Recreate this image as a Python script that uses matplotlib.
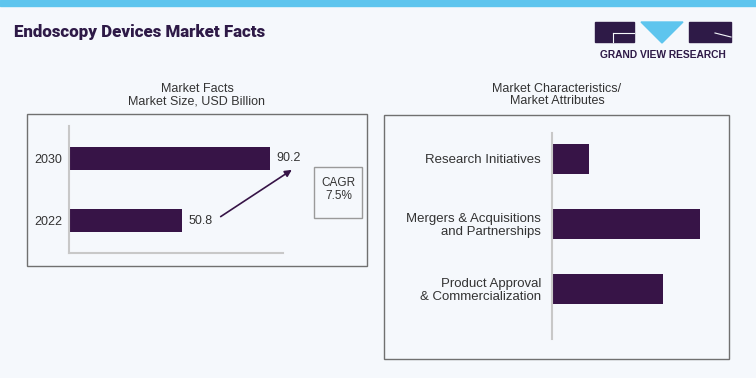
import matplotlib.pyplot as plt
from matplotlib.patches import Rectangle, Polygon

# data
years = ['2022', '2030']
market_size = [50.8, 90.2]
cagr_text = 'CAGR\n7.5%'
attributes = ['Product Approval\n& Commercialization',
              'Mergers & Acquisitions\nand Partnerships',
              'Research Initiatives']
attribute_scores = [3, 4, 1]

W, H = 756, 378
BG = '#F5F8FC'
BAR = '#371447'
TXT = '#333333'
AXIS = '#C8C8C8'
BOX = '#707070'
plt.rcParams['font.family'] = ['Liberation Sans', 'DejaVu Sans']


def px(x0, y0, x1, y1):
    # pixel box -> figure fraction rect
    return [x0 / W, 1 - y1 / H, (x1 - x0) / W, (y1 - y0) / H]


fig = plt.figure(figsize=(W / 100, H / 100), dpi=100, facecolor=BG)

# top stripe and title
fig.patches.append(Rectangle((0, 1 - 6 / H), 1, 6 / H, transform=fig.transFigure,
                             color='#5EC5EE', zorder=0))
fig.text(14 / W, 1 - 32 / H, 'Endoscopy Devices Market Facts', fontsize=12.2,
         fontweight='heavy', family=['Roboto', 'DejaVu Sans'],
         color='#2E1A47', va='center', ha='left')

# logo
def fbox(x0, y0, x1, y1, **kw):
    fig.patches.append(Rectangle((x0 / W, 1 - y1 / H), (x1 - x0) / W, (y1 - y0) / H,
                                 transform=fig.transFigure, **kw))

fbox(595, 22, 634, 42, color='#2E1A47')
fbox(689, 22, 731, 42, color='#2E1A47')
fig.patches.append(Polygon([(641 / W, 1 - 22 / H), (683 / W, 1 - 22 / H), (662 / W, 1 - 43 / H)],
                           closed=True, transform=fig.transFigure, color='#5EC5EE'))
fig.lines.append(plt.Line2D([613 / W, 634 / W], [1 - 33 / H, 1 - 33 / H],
                            transform=fig.transFigure, color=BG, lw=0.8))
fig.lines.append(plt.Line2D([613 / W, 613 / W], [1 - 33 / H, 1 - 42 / H],
                            transform=fig.transFigure, color=BG, lw=0.8))
fig.lines.append(plt.Line2D([715 / W, 731 / W], [1 - 33 / H, 1 - 37 / H],
                            transform=fig.transFigure, color=BG, lw=0.8))
fig.text(663 / W, 1 - 55 / H, 'GRAND VIEW RESEARCH', fontsize=7.4, fontweight='bold',
         color='#2E1A47', ha='center', va='center')

# panel frames and titles
fbox(27, 114, 367, 266, fill=False, edgecolor=BOX, lw=1)
fbox(384, 115, 729, 359, fill=False, edgecolor=BOX, lw=1)
fig.text(197 / W, 1 - 95 / H, 'Market Facts\nMarket Size, USD Billion', fontsize=9,
         color=TXT, ha='center', va='center', linespacing=1.1)
fig.text(557 / W, 1 - 95 / H, 'Market Characteristics/\nMarket Attributes', fontsize=9,
         color=TXT, ha='center', va='center', linespacing=1.1)

# left: market size bars
ax1 = fig.add_axes(px(69, 126, 283, 253))
ax1.set_facecolor('none')
pos = range(len(years))
ax1.barh(pos, market_size, height=0.37, color=BAR)
ax1.set_xlim(0, 96)
ax1.set_ylim(-0.52, 1.52)
ax1.set_yticks(list(pos), years, fontsize=9, color=TXT)
ax1.set_xticks([])
ax1.tick_params(axis='y', length=0, pad=5)
for s in ['top', 'right']:
    ax1.spines[s].set_visible(False)
for s in ['left', 'bottom']:
    ax1.spines[s].set_color(AXIS)
    ax1.spines[s].set_linewidth(1.5)
for p, v in zip(pos, market_size):
    ax1.text(v + 3, p, f'{v}', fontsize=9, color=TXT, va='center', ha='left')
ax1.annotate('', xy=(101, 0.84), xytext=(67, 0.04), annotation_clip=False,
             arrowprops=dict(arrowstyle='-|>', color=BAR, lw=1.2, mutation_scale=10))
ax1.text(121, 0.5, cagr_text, fontsize=8.5, color=TXT, ha='center', va='center',
         linespacing=1.1, clip_on=False)
fbox(314, 167, 362, 218, fill=False, edgecolor='#9A9A9A', lw=1)

# right: market attributes
ax2 = fig.add_axes(px(552, 133, 729, 339))
ax2.set_facecolor('none')
pos2 = range(len(attributes))
ax2.barh(pos2, attribute_scores, height=0.46, color=BAR)
ax2.set_xlim(0, 4.78)
ax2.set_ylim(-0.77, 2.4)
ax2.set_yticks(list(pos2), attributes, fontsize=9.5, color=TXT, linespacing=1.05)
ax2.set_xticks([])
ax2.tick_params(axis='y', length=0, pad=8)
for s in ['top', 'right', 'bottom']:
    ax2.spines[s].set_visible(False)
ax2.spines['left'].set_color(AXIS)
ax2.spines['left'].set_linewidth(1.5)

fig.savefig('out.png', dpi=100, facecolor=BG)
